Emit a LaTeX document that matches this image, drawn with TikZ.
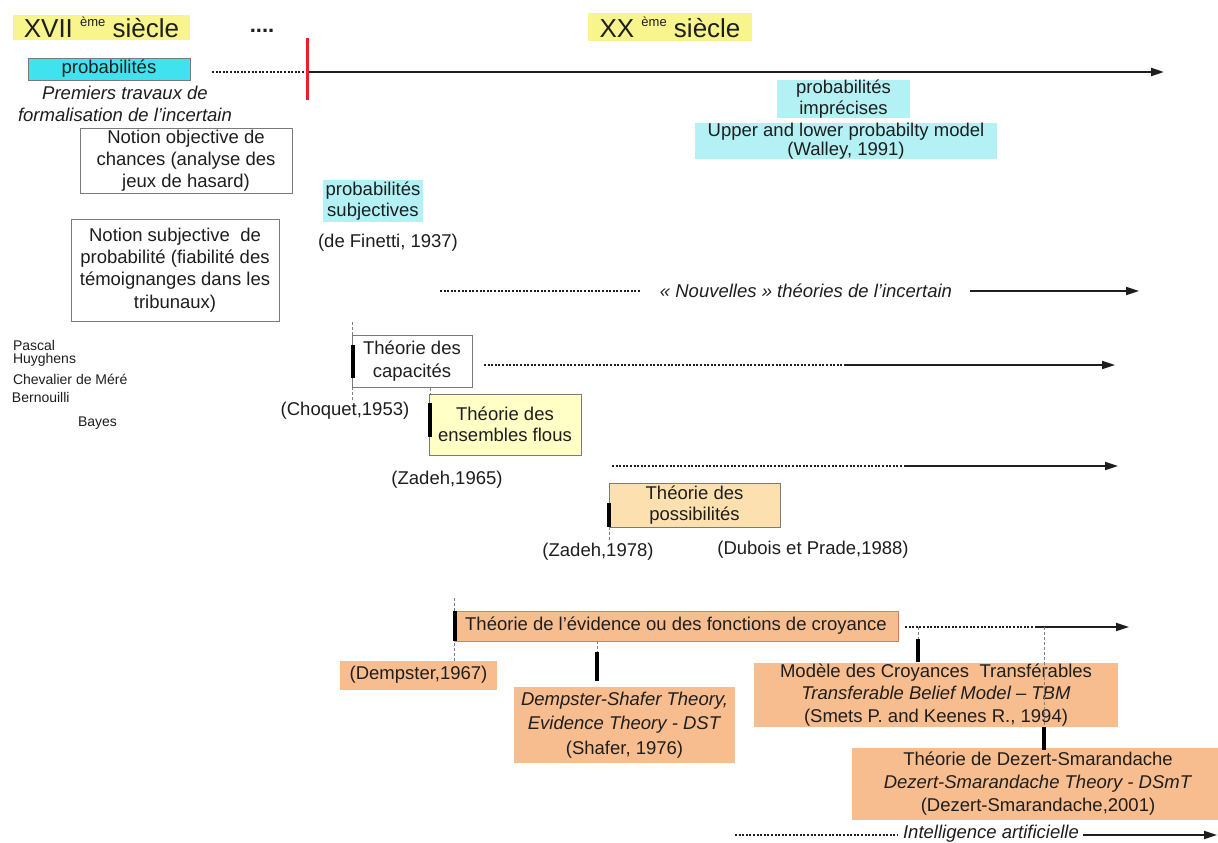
\documentclass[tikz,border=0pt]{standalone}
\usepackage{fontspec}
\setmainfont{Liberation Sans}
\usetikzlibrary{arrows.meta}
\definecolor{yellowHL}{HTML}{F8F58C}
\definecolor{cyanStrong}{HTML}{3FE2EE}
\definecolor{cyanLight}{HTML}{B4F1F5}
\definecolor{fuzzyFill}{HTML}{FFFFC6}
\definecolor{possFill}{HTML}{FCE0B0}
\definecolor{orangeFill}{HTML}{F8BD8E}
\definecolor{orangeBorder}{HTML}{C8845A}
\definecolor{boxgray}{HTML}{7A7A7A}
\definecolor{ink}{HTML}{1E1E1E}
\definecolor{redline}{HTML}{E8202A}
\begin{document}
\begin{tikzpicture}[x=1pt,y=-1pt,
  every node/.style={inner sep=0pt, outer sep=0pt, align=center, text=ink,
    font=\fontsize{18.5}{22}\selectfont},
  titletext/.style={font=\fontsize{26}{28}\selectfont},
  wbox/.style={draw=boxgray, line width=0.8pt, fill=white},
  obox/.style={fill=orangeFill},
  solidl/.style={draw=ink, line width=1.8pt},
  dotl/.style={draw=ink, line width=1.6pt, dash pattern=on 2pt off 1.6pt},
  arr/.style={-{Triangle[length=13pt,width=8pt]}},
  tbar/.style={draw=black, line width=3.6pt},
  guide/.style={draw=gray, line width=0.6pt, dash pattern=on 3pt off 2pt},
  namesmall/.style={font=\fontsize{14}{16}\selectfont, anchor=west},
]
\useasboundingbox (0,0) rectangle (1218,843);
\fill[white] (0,0) rectangle (1218,843);

% titles
\node[fill=yellowHL, minimum width=177, minimum height=25, titletext] (c17) at (101.5,27.5)
  {XVII \raisebox{0.42em}{\fontsize{13}{13}\selectfont ème} siècle};
\node[font=\fontsize{22}{22}\selectfont\bfseries, anchor=base] (dots) at (262,33) {....};
\node[fill=yellowHL, minimum width=164, minimum height=28, titletext] (c20) at (670,27)
  {XX \raisebox{0.42em}{\fontsize{13}{13}\selectfont ème} siècle};

% main timeline
\node[fill=cyanStrong, draw=boxgray, line width=0.6pt, minimum width=162, minimum height=22] (prob) at (109,69) {probabilités};
\node[font=\fontsize{18.5}{22}\selectfont\itshape] (prem) at (125,104) {Premiers travaux de\\formalisation de l'incertain};
\coordinate (d0) at (212,72);
\coordinate (r0) at (307,72);
\coordinate (rtop) at (307,38);
\coordinate (rbot) at (307,100);
\coordinate (e0) at (1164,72);
\draw[dotl] (d0) -- (r0);
\draw[solidl, line width=2.2pt, arr] (r0) -- (e0);
\draw[redline, line width=3pt] (rtop) -- (rbot);

% notions
\node[wbox, minimum width=212, minimum height=65] (nobj) at (186,160.5)
  {Notion objective de\\chances (analyse des\\jeux de hasard)};
\node[wbox, minimum width=208, minimum height=102, font=\fontsize{18.5}{22.4}\selectfont] (nsub) at (175,270)
  {Notion subjective\ \ de\\probabilité (fiabilité des\\témoignanges dans les\\tribunaux)};

\node[namesmall] (pascal) at (13,345) {Pascal};
\node[namesmall] (huy) at (13,360) {Huyghens};
\node[namesmall] (cheva) at (13,379) {Chevalier de Méré};
\node[namesmall] (bern) at (12,397) {Bernouilli};
\node[namesmall] (bayes) at (78,423) {Bayes};

% subjective probabilities
\node[fill=cyanLight, minimum width=100, minimum height=42, font=\fontsize{18.5}{21}\selectfont] (psubj) at (373,201) {probabilités\\subjectives};
\node (finetti) at (388,243) {(de Finetti, 1937)};

% imprecise probabilities
\node[fill=cyanLight, minimum width=302, minimum height=32, font=\fontsize{18.5}{19}\selectfont] (upper) at (846,141)
  {Upper and lower probabilty model\\(Walley, 1991)};
\node[fill=cyanLight, minimum width=133, minimum height=34, font=\fontsize{18.5}{21}\selectfont] (pimp) at (843.5,99)
  {probabilités\\imprécises};

% nouvelles theories
\coordinate (n0) at (440,291);
\coordinate (n1) at (640,291);
\node[font=\fontsize{18.5}{22}\selectfont\itshape] (nouv) at (806,291) {« Nouvelles » théories de l'incertain};
\coordinate (n2) at (970,291);
\coordinate (n3) at (1139,291);
\draw[dotl] (n0) -- (n1);
\draw[solidl, arr] (n2) -- (n3);

% capacites
\coordinate (cg0) at (352,322);
\coordinate (cg1) at (352,402);
\draw[guide] (cg0) -- (cg1);
\node[wbox, minimum width=120, minimum height=52, font=\fontsize{18.5}{23}\selectfont] (cap) at (412,361) {Théorie des\\capacités};
\coordinate (cb0) at (353,345);
\coordinate (cb1) at (353,378);
\draw[tbar] (cb0) -- (cb1);
\coordinate (cl0) at (484,365);
\coordinate (cl1) at (845,365);
\coordinate (cl2) at (1115,365);
\draw[dotl] (cl0) -- (cl1);
\draw[solidl, arr] (cl1) -- (cl2);
\node (choquet) at (345,411) {(Choquet,1953)};

% fuzzy
\coordinate (fg0) at (430,388);
\coordinate (fg1) at (430,455);
\draw[guide] (fg0) -- (fg1);
\node[draw=boxgray, line width=0.8pt, fill=fuzzyFill, minimum width=152, minimum height=61, font=\fontsize{18.5}{20.5}\selectfont] (fuzzy) at (505,424.5) {Théorie des\\ensembles flous};
\coordinate (fb0) at (430,403);
\coordinate (fb1) at (430,437);
\draw[tbar] (fb0) -- (fb1);
\node (zadeh65) at (447,480) {(Zadeh,1965)};
\coordinate (fl0) at (612,466);
\coordinate (fl1) at (904,466);
\coordinate (fl2) at (1118,466);
\draw[dotl] (fl0) -- (fl1);
\draw[solidl, arr] (fl1) -- (fl2);

% possibilites
\node[draw=boxgray, line width=0.8pt, fill=possFill, minimum width=171, minimum height=44, font=\fontsize{18.5}{21}\selectfont] (poss) at (694.5,505) {Théorie des\\possibilités};
\coordinate (pb0) at (609,503);
\coordinate (pb1) at (609,527);
\coordinate (pg1) at (609,540);
\draw[guide] (pb1) -- (pg1);
\draw[tbar] (pb0) -- (pb1);
\node (zadeh78) at (598,552) {(Zadeh,1978)};
\node (dubois) at (813,550) {(Dubois et Prade,1988)};

% evidence
\coordinate (eg0) at (454,598);
\coordinate (eg1) at (454,662);
\draw[guide] (eg0) -- (eg1);
\node[fill=orangeFill, draw=orangeBorder, line width=0.8pt, minimum width=444, minimum height=30] (evid) at (676,626)
  {Théorie de l'évidence ou des fonctions de croyance};
\coordinate (eb0) at (455,611);
\coordinate (eb1) at (455,641);
\draw[tbar] (eb0) -- (eb1);
\coordinate (el0) at (905,627);
\coordinate (el1) at (1035,627);
\coordinate (el2) at (1129,627);
\draw[dotl] (el0) -- (el1);
\draw[solidl, arr] (el1) -- (el2);

\node[obox, minimum width=157, minimum height=29] (dempster) at (418.5,675) {(Dempster,1967)};

\coordinate (sg0) at (597,641);
\coordinate (sb0) at (597,652);
\coordinate (sb1) at (597,681);
\draw[guide] (sg0) -- (sb0);
\draw[tbar] (sb0) -- (sb1);
\node[obox, minimum width=221, minimum height=76, font=\fontsize{18.5}{24.5}\selectfont] (dst) at (624.5,725)
  {\textit{Dempster-Shafer Theory,}\\\textit{Evidence Theory - DST}\\(Shafer, 1976)};

\coordinate (tg0) at (918,627);
\coordinate (tb0) at (918,639);
\coordinate (tb1) at (918,662);
\draw[guide] (tg0) -- (tb0);
\draw[tbar] (tb0) -- (tb1);
\node[obox, minimum width=364, minimum height=64, font=\fontsize{18.5}{22.5}\selectfont] (tbm) at (936,695)
  {Modèle des Croyances\ \ Transférables\\\textit{Transferable Belief Model – TBM}\\(Smets P. and Keenes R., 1994)};

\node[obox, minimum width=372, minimum height=72, font=\fontsize{18.5}{23}\selectfont] (dsmt) at (1038,784)
  {Théorie de Dezert-Smarandache\\\textit{Dezert-Smarandache Theory - DSmT}\\(Dezert-Smarandache,2001)};
\coordinate (dg0) at (1044,627);
\coordinate (dg1) at (1044,727);
\coordinate (db1) at (1044,750);
\draw[guide] (dg0) -- (dg1);
\draw[tbar] (dg1) -- (db1);

% intelligence artificielle
\coordinate (ia0) at (735,835);
\coordinate (ia1) at (898,835);
\node[font=\fontsize{18.5}{22}\selectfont\itshape] (ia) at (991,834) {Intelligence artificielle};
\coordinate (ia2) at (1083,835);
\coordinate (ia3) at (1217,835);
\draw[dotl] (ia0) -- (ia1);
\draw[solidl, arr] (ia2) -- (ia3);
\end{tikzpicture}
\end{document}
